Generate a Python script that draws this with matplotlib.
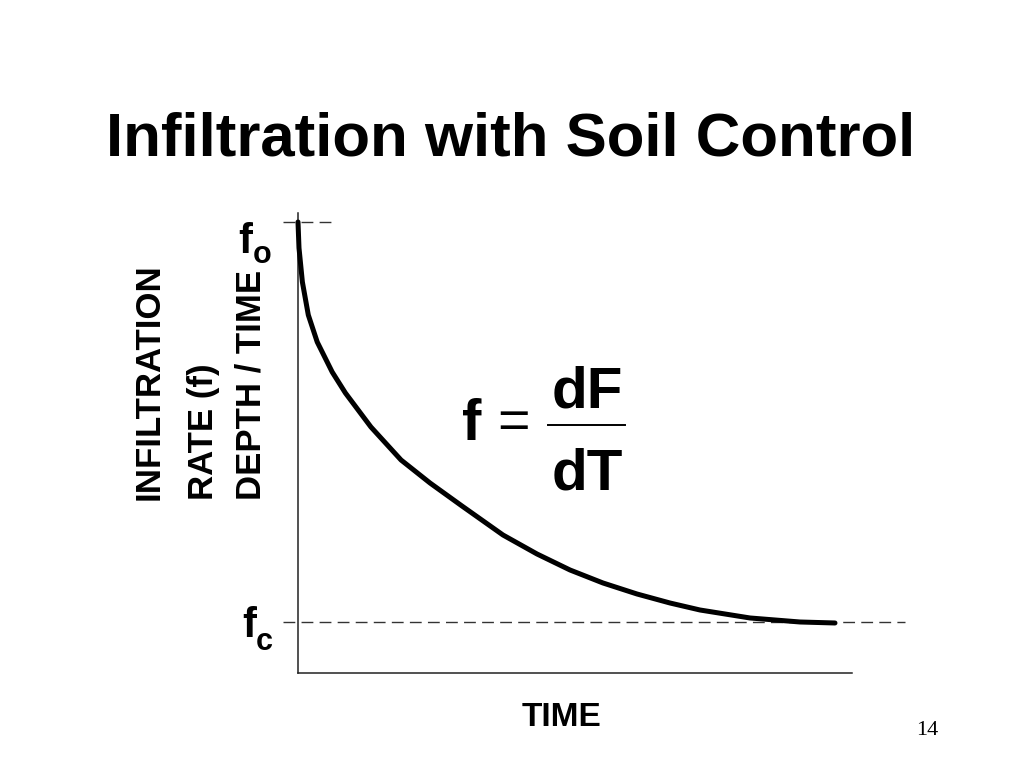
import matplotlib.pyplot as plt

# Curva de infiltración
tiempo = [0, 0.018, 0.079, 0.186, 0.347, 0.617, 0.856, 1.316, 1.860, 2.383, 2.960,
          3.700, 4.314, 4.910, 5.505, 6.119, 6.715, 7.256, 8.159, 9.061, 9.693]
tasa = [10.0, 9.424, 8.670, 7.938, 7.339, 6.674, 6.208, 5.455, 4.723, 4.213, 3.703,
        3.060, 2.639, 2.284, 1.996, 1.752, 1.552, 1.397, 1.220, 1.131, 1.109]
f_o = 10.0
f_c = 1.13

W, H = 1024, 768
fig = plt.figure(figsize=(10.24, 7.68), dpi=100)
plt.rcParams['font.family'] = ['Liberation Sans', 'DejaVu Sans']


def fx(px):
    return px / W


def fy(py):
    return 1 - py / H


ax = fig.add_axes([fx(298), 95 / H, 554 / W, 460 / H])
ax.set_xlim(0, 10)
ax.set_ylim(0, 460 / 45.1)
ax.set_xticks([])
ax.set_yticks([])
for s in ['top', 'right']:
    ax.spines[s].set_visible(False)
for s in ['left', 'bottom']:
    ax.spines[s].set_linewidth(1.1)
    ax.spines[s].set_color('#222222')

# curva
ax.plot(tiempo, tasa, color='black', lw=3.6, solid_capstyle='round',
        solid_joinstyle='round', clip_on=False, zorder=3)

# líneas discontinuas fo y fc
ax.plot([-0.27, 0.63], [f_o, f_o], color='#333333', lw=1.0,
        dashes=(8.5, 4.5), clip_on=False)
ax.plot([-0.27, 10.96], [f_c, f_c], color='#333333', lw=1.0,
        dashes=(8.5, 4.5), clip_on=False)

# titulo
fig.text(fx(511), fy(155), 'Infiltration with Soil Control', fontsize=44.5,
         fontweight='bold', ha='center', va='baseline')

# etiquetas fo y fc
fig.text(fx(245), fy(253), 'f', fontsize=30, fontweight='bold', ha='center', va='baseline')
fig.text(fx(262), fy(263), 'o', fontsize=22, fontweight='bold', ha='center', va='baseline')
fig.text(fx(249), fy(637), 'f', fontsize=30, fontweight='bold', ha='center', va='baseline')
fig.text(fx(264), fy(650), 'c', fontsize=22, fontweight='bold', ha='center', va='baseline')

# etiqueta eje y (tres lineas)
lineas = ['INFILTRATION', 'RATE (f)', 'DEPTH / TIME']
xs = [149, 204, 251]
for t, x in zip(lineas, xs):
    fig.text(fx(x), fy(500), t, fontsize=25, fontweight='bold', rotation=90,
             ha='center', va='bottom')

# etiqueta eje x
fig.text(fx(562), fy(717), 'TIME', fontsize=24, fontweight='bold', ha='center', va='center')

# formula f = dF/dT
fig.text(fx(472), fy(440), 'f', fontsize=42, fontweight='bold', ha='center', va='baseline')
fig.text(fx(514), fy(438), '=', fontsize=40, ha='center', va='baseline')
fig.add_artist(plt.Line2D([fx(548), fx(625)], [fy(425), fy(425)], color='black', lw=1.4))
fig.text(fx(587), fy(407), 'dF', fontsize=42, fontweight='bold', ha='center', va='baseline')
fig.text(fx(587), fy(489), 'dT', fontsize=42, fontweight='bold', ha='center', va='baseline')

# numero de pagina
fig.text(fx(927), fy(735), '14', fontsize=16, family='Liberation Serif', ha='center', va='baseline')

fig.savefig('out.png', dpi=100)
